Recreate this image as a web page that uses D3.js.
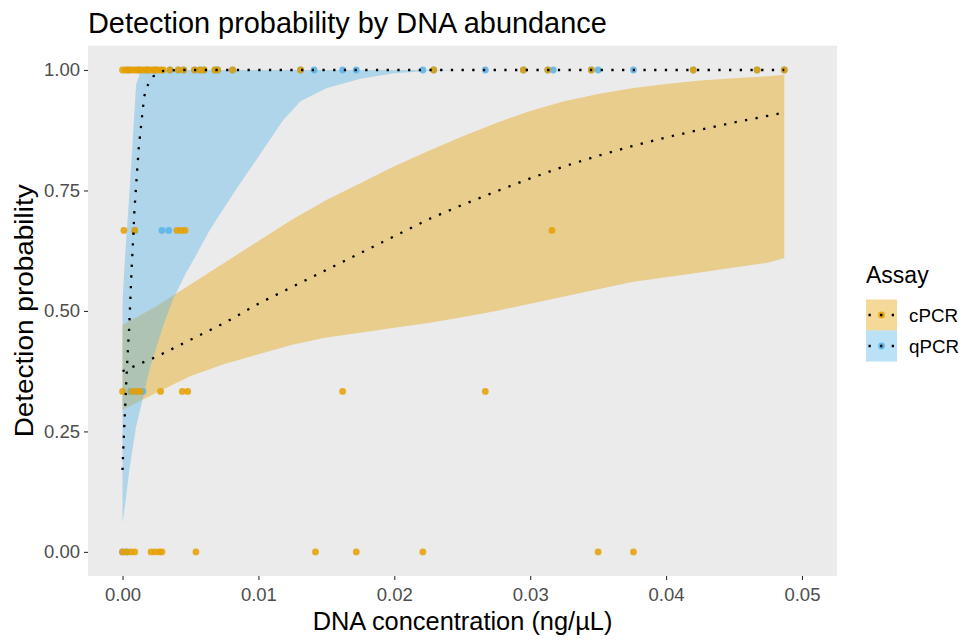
<!DOCTYPE html>
<html>
<head>
<meta charset="utf-8">
<script src="https://cdn.jsdelivr.net/npm/d3@7"></script>
<style>
  html, body { margin: 0; padding: 0; background: #ffffff; }
  svg { display: block; }
  text { font-family: "Liberation Sans", Arial, sans-serif; }
</style>
</head>
<body>
<svg id="chart" width="971" height="640"></svg>
<script>
// ---------------- DATA ----------------
const assays = ["cPCR", "qPCR"];
const assayColors = ["#E69F00", "#56B4E9"];

// observed detection proportions (3 replicates) by DNA concentration
const cpcrConc = [
  0.0000, 0.0002, 0.0004, 0.0006, 0.0008, 0.0010, 0.0012, 0.0014, 0.0016, 0.0018, 0.0020,
  0.0022, 0.0024, 0.0026, 0.0028, 0.0030, 0.0035, 0.0041, 0.0045, 0.0053, 0.0057, 0.0060,
  0.0068, 0.0070, 0.0081, 0.0131, 0.0229, 0.0295, 0.0313, 0.0345, 0.0420, 0.0467, 0.0487,
  0.0001, 0.0009, 0.0040, 0.0043, 0.0046, 0.0316,
  0.0000, 0.0007, 0.0010, 0.0013, 0.0028, 0.0044, 0.0048, 0.0162, 0.0267,
  0.0000, 0.0003, 0.0006, 0.0009, 0.0021, 0.0024, 0.0027, 0.0029, 0.0054, 0.0142, 0.0172,
  0.0221, 0.0350, 0.0376
];
const cpcrDetect = [
  1, 1, 1, 1, 1, 1, 1, 1, 1, 1, 1,
  1, 1, 1, 1, 1, 1, 1, 1, 1, 1, 1,
  1, 1, 1, 1, 1, 1, 1, 1, 1, 1, 1,
  0.667, 0.667, 0.667, 0.667, 0.667, 0.667,
  0.333, 0.333, 0.333, 0.333, 0.333, 0.333, 0.333, 0.333, 0.333,
  0, 0, 0, 0, 0, 0, 0, 0, 0, 0, 0,
  0, 0, 0
];
const qpcrConc = [
  0.0004, 0.0012, 0.0018, 0.0024, 0.0035, 0.0041, 0.0045, 0.0053, 0.0057, 0.0060, 0.0068,
  0.0070, 0.0081, 0.0131, 0.0141, 0.0162, 0.0172, 0.0221, 0.0229, 0.0267, 0.0295, 0.0313,
  0.0317, 0.0345, 0.0350, 0.0376, 0.0420, 0.0467, 0.0487,
  0.0009, 0.0029, 0.0034,
  0.0006, 0.0010, 0.0015,
  0.0000, 0.0003
];
const qpcrDetect = [
  1, 1, 1, 1, 1, 1, 1, 1, 1, 1, 1,
  1, 1, 1, 1, 1, 1, 1, 1, 1, 1, 1,
  1, 1, 1, 1, 1, 1, 1,
  0.667, 0.667, 0.667,
  0.333, 0.333, 0.333,
  0, 0
];

// fitted curves and confidence bands
const cpcrFitX  = [0, 0.0025, 0.005, 0.0075, 0.01, 0.0125, 0.015, 0.0175, 0.02, 0.0225, 0.025,
                   0.0275, 0.03, 0.0325, 0.035, 0.0375, 0.04, 0.0425, 0.045, 0.0475, 0.0487];
const cpcrFit   = [0.375, 0.405, 0.44, 0.475, 0.515, 0.55, 0.585, 0.62, 0.655, 0.69, 0.72,
                   0.748, 0.775, 0.80, 0.822, 0.842, 0.86, 0.876, 0.891, 0.905, 0.912];
const cpcrLower = [0.295, 0.33, 0.365, 0.39, 0.41, 0.43, 0.445, 0.455, 0.465, 0.475, 0.487,
                   0.50, 0.515, 0.53, 0.545, 0.56, 0.57, 0.58, 0.59, 0.60, 0.61];
const cpcrUpper = [0.471, 0.51, 0.555, 0.60, 0.645, 0.69, 0.73, 0.765, 0.80, 0.832, 0.862,
                   0.89, 0.915, 0.935, 0.95, 0.962, 0.971, 0.978, 0.983, 0.987, 0.99];

const qpcrFitX = [0, 0.00005, 0.00013, 0.00024, 0.00035, 0.00048, 0.00055, 0.00068, 0.0008,
                  0.00087, 0.001, 0.0012, 0.00153, 0.0016, 0.00178, 0.00227, 0.003, 0.004,
                  0.01, 0.02, 0.03, 0.04, 0.0487];
const qpcrFit  = [0.17, 0.21, 0.26, 0.33, 0.395, 0.46, 0.506, 0.593, 0.66,
                  0.705, 0.76, 0.84, 0.928, 0.945, 0.965, 0.987, 0.998, 1,
                  1, 1, 1, 1, 1];
const qpcrBandX = [0, 0.0002, 0.0005, 0.001, 0.0013, 0.002, 0.003, 0.0037, 0.0046, 0.0055,
                   0.0064, 0.0083, 0.010, 0.0118, 0.0131, 0.015, 0.0175, 0.02, 0.0225, 0.025,
                   0.03, 0.04, 0.0487];
const qpcrLower = [0.06, 0.10, 0.17, 0.26, 0.295, 0.38, 0.47, 0.523, 0.575, 0.62,
                   0.667, 0.75, 0.82, 0.895, 0.935, 0.962, 0.982, 0.993, 0.998, 1,
                   1, 1, 1];
const qpcrUpper = [0.52, 0.62, 0.74, 0.97, 0.995, 1, 1, 1, 1, 1,
                   1, 1, 1, 1, 1, 1, 1, 1, 1, 1,
                   1, 1, 1];

const xTicks = [0, 0.01, 0.02, 0.03, 0.04, 0.05];
const yTicks = [0, 0.25, 0.5, 0.75, 1];

// ---------------- LAYOUT ----------------
const svg = d3.select("#chart");
const panel = { left: 88, right: 837, top: 45.7, bottom: 576 };

const x = d3.scaleLinear().domain([-0.00254, 0.05258]).range([panel.left, panel.right]);
const y = d3.scaleLinear().domain([-0.05, 1.0504]).range([panel.bottom, panel.top]);

svg.append("rect")
  .attr("x", panel.left).attr("y", panel.top)
  .attr("width", panel.right - panel.left).attr("height", panel.bottom - panel.top)
  .attr("fill", "#EBEBEB");

const g = svg.append("g");

// ribbons
const bandArea = d3.area().x(d => x(d[0])).y0(d => y(d[1])).y1(d => y(d[2]));
const cpcrBand = cpcrFitX.map((v, i) => [v, cpcrLower[i], cpcrUpper[i]]);
const qpcrBand = qpcrBandX.map((v, i) => [v, qpcrLower[i], qpcrUpper[i]]);
g.append("path").attr("d", bandArea(cpcrBand)).attr("fill", assayColors[0]).attr("fill-opacity", 0.4);
g.append("path").attr("d", bandArea(qpcrBand)).attr("fill", assayColors[1]).attr("fill-opacity", 0.4);

// points
const qpts = qpcrConc.map((v, i) => [v, qpcrDetect[i]]);
const cpts = cpcrConc.map((v, i) => [v, cpcrDetect[i]]);
g.append("g").selectAll("circle").data(qpts).join("circle")
  .attr("cx", d => x(d[0])).attr("cy", d => y(d[1])).attr("r", 3.4)
  .attr("fill", assayColors[1]).attr("fill-opacity", 0.85);
g.append("g").selectAll("circle").data(cpts).join("circle")
  .attr("cx", d => x(d[0])).attr("cy", d => y(d[1])).attr("r", 3.4)
  .attr("fill", assayColors[0]).attr("fill-opacity", 0.85);

// fitted lines (dotted)
const fitLine = d3.line().x(d => x(d[0])).y(d => y(d[1]));
const dotted = sel => sel.attr("fill", "none").attr("stroke", "#000")
  .attr("stroke-width", 2.3).attr("stroke-dasharray", "2.3 8.4");
g.append("path").attr("d", fitLine(cpcrFitX.map((v, i) => [v, cpcrFit[i]]))).call(dotted);
g.append("path").attr("d", fitLine(qpcrFitX.map((v, i) => [v, qpcrFit[i]]))).call(dotted);

// ---------------- AXES ----------------
const xAxis = svg.append("g").attr("transform", `translate(0,${panel.bottom})`)
  .call(d3.axisBottom(x).tickValues(xTicks).tickFormat(d3.format(".2f")).tickSize(4).tickPadding(3));
const yAxis = svg.append("g").attr("transform", `translate(${panel.left},0)`)
  .call(d3.axisLeft(y).tickValues(yTicks).tickFormat(d3.format(".2f")).tickSize(4).tickPadding(4));
[xAxis, yAxis].forEach(a => {
  a.select(".domain").remove();
  a.selectAll(".tick line").attr("stroke", "#333333").attr("stroke-width", 1.1);
  a.selectAll(".tick text").attr("fill", "#4D4D4D").style("font-size", "18.5px")
    .style("font-family", "'Liberation Sans', Arial, sans-serif");
});
xAxis.selectAll(".tick text").attr("dy", "0.95em");

// titles
svg.append("text").attr("x", 88).attr("y", 33)
  .style("font-size", "28.9px").attr("fill", "#000")
  .text("Detection probability by DNA abundance");

svg.append("text").attr("x", (panel.left + panel.right) / 2).attr("y", 630)
  .attr("text-anchor", "middle").style("font-size", "25.4px").attr("fill", "#000")
  .text("DNA concentration (ng/µL)");

svg.append("text")
  .attr("transform", `translate(33,${(panel.top + panel.bottom) / 2}) rotate(-90) scale(1.1,1)`)
  .attr("text-anchor", "middle").style("font-size", "25.4px").attr("fill", "#000")
  .text("Detection probability");

// ---------------- LEGEND ----------------
const leg = svg.append("g").attr("transform", "translate(866,0)");
leg.append("text").attr("x", 0).attr("y", 283).style("font-size", "23px").attr("fill", "#000").text("Assay");
assays.forEach((name, i) => {
  const top = 299.5 + i * 31;
  leg.append("rect").attr("x", 0).attr("y", top).attr("width", 31).attr("height", 31)
    .attr("fill", assayColors[i]).attr("fill-opacity", 0.4);
  leg.append("circle").attr("cx", 15.5).attr("cy", top + 15.5).attr("r", 3.4)
    .attr("fill", assayColors[i]).attr("fill-opacity", 0.85);
  leg.append("line").attr("x1", 2.5).attr("x2", 30).attr("y1", top + 15.5).attr("y2", top + 15.5)
    .attr("stroke", "#000").attr("stroke-width", 2.3).attr("stroke-dasharray", "2.3 9.3");
  leg.append("text").attr("x", 43).attr("y", top + 15.5).attr("dy", "0.36em")
    .style("font-size", "18.8px").attr("fill", "#000").text(name);
});
</script>
</body>
</html>
